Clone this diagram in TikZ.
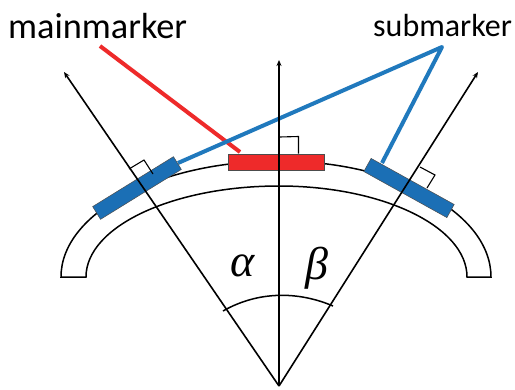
\documentclass[tikz,border=0pt]{standalone}
\usepackage{fontspec}
\setmainfont{Carlito}
\newfontfamily\greekit[ItalicFont={Liberation Serif Italic}]{Liberation Serif}
\usetikzlibrary{arrows.meta}
\definecolor{mred}{HTML}{EE2A2A}
\definecolor{mblue}{HTML}{1B6FB5}
\definecolor{lblue}{HTML}{2079BD}
\tikzset{
  x=1pt,y=-1pt,
  axisline/.style={draw=black,line width=1.6pt,-{Stealth[length=6pt,width=5pt]}},
  thinline/.style={draw=black,line width=1.1pt},
  bandline/.style={draw=black,line width=1.5pt},
  marker/.style={draw=black!70,line width=0.5pt,inner sep=0pt,minimum width=95pt,minimum height=15pt},
  lead/.style={line width=4pt},
  lab/.style={inner sep=0pt,anchor=base west},
}
\begin{document}
\begin{tikzpicture}
\useasboundingbox (0,0) rectangle (515,389);
\fill[white] (0,0) rectangle (515,389);
% band
\draw[bandline] (61,277) arc[start angle=180,end angle=90,x radius=218pt,y radius=116pt]
  arc[start angle=90,end angle=0,x radius=212pt,y radius=116pt]
  -- (467,277)
  arc[start angle=0,end angle=90,x radius=188pt,y radius=91pt]
  arc[start angle=90,end angle=180,x radius=193pt,y radius=91pt]
  -- cycle;
% coordinates
\coordinate (apex) at (279,386);
\coordinate (tipL) at (64,72);
\coordinate (tipC) at (279,60);
\coordinate (tipR) at (478,72);
\coordinate (redstart) at (100,46);
\coordinate (redend) at (240,152);
\coordinate (bluetop) at (442,47);
\coordinate (blueL) at (178,163);
\coordinate (blueR) at (382,163);
% leads
\draw[lead,mred] (redstart) -- (redend);
\draw[lead,lblue,line join=round] (blueL) -- (bluetop) -- (blueR);
% markers
\node[marker,fill=mblue,rotate=31.7] (ml) at (137,188) {};
\node[marker,fill=mblue,rotate=-29] (mr) at (409,188) {};
\node[marker,fill=mred,minimum width=95.5pt,minimum height=16pt] (mc) at (276.2,162) {};
% axes
\draw[axisline] (apex) -- (tipL);
\draw[axisline] (apex) -- (tipC);
\draw[axisline] (apex) -- (tipR);
% right-angle marks
\draw[thinline] (279.5,137) -- (298.5,136.5) -- (298.5,153.5);
\draw[thinline] (129,169) -- (144,160) -- (153,174);
\draw[thinline] (420,167) -- (435,175) -- (427,188);
% angle arc
\draw[bandline] (223,311) .. controls (258,291) and (298,291) .. (333,306);
% labels
\node[lab,font=\fontsize{36.3}{36}\selectfont] (t1) at (8,38) {mainmarker};
\node[lab,font=\fontsize{32}{32}\selectfont] (t2) at (373,36) {submarker};
\node[inner sep=0pt,font=\greekit\itshape\fontsize{46}{46}\selectfont] (a) at (243,266) {α};
\node[inner sep=0pt,font=\greekit\itshape\fontsize{46}{46}\selectfont] (b) at (317,268) {β};
\end{tikzpicture}
\end{document}
